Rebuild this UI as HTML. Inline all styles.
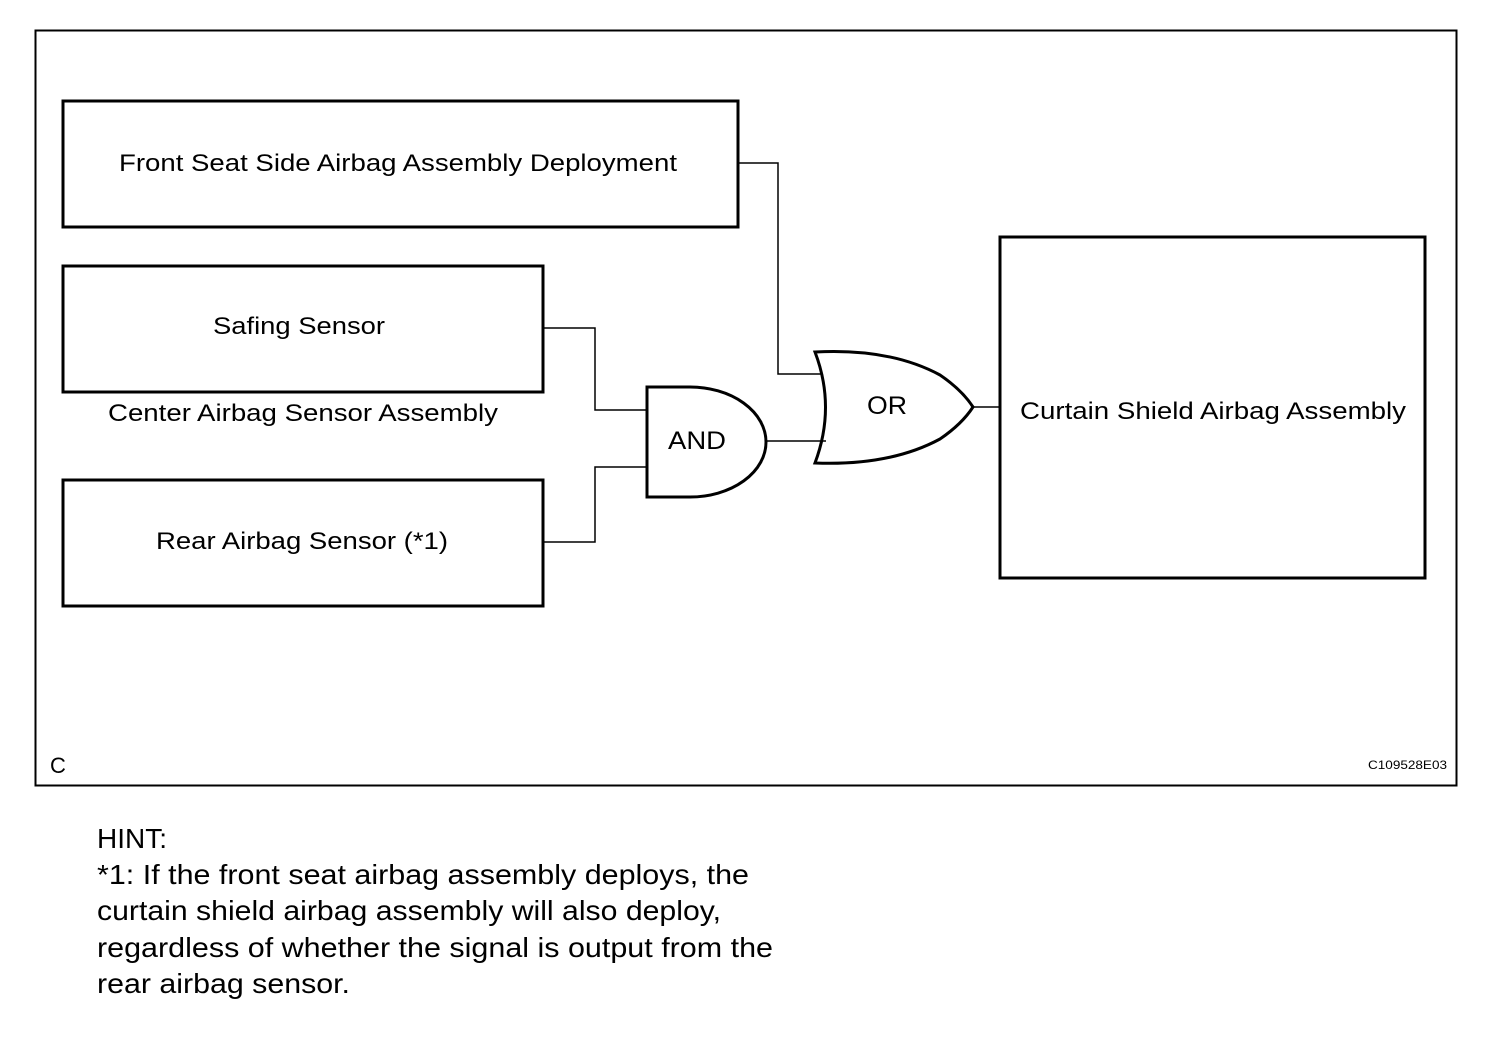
<!DOCTYPE html>
<html><head><meta charset="utf-8"><style>
html,body{margin:0;padding:0;background:#fff;}
svg{display:block;}
text{font-family:"Liberation Sans",Arial,sans-serif;fill:#000;}
</style></head><body>
<svg width="1504" height="1038" viewBox="0 0 1504 1038" xmlns="http://www.w3.org/2000/svg">
<rect x="35.5" y="30.5" width="1421" height="755" fill="none" stroke="#000" stroke-width="2"/>
<g fill="none" stroke="#000" stroke-width="3">
<rect x="63" y="101" width="675" height="126"/>
<rect x="63" y="266" width="480" height="126"/>
<rect x="63" y="480" width="480" height="126"/>
<rect x="1000" y="237" width="425" height="341"/>
<path d="M647,387 H690 A76,55 0 0 1 690,497 H647 Z"/>
<path d="M815,352 Q890,348 940,375 Q962,390 973,407 Q962,424 940,439 Q890,466 815,463 Q836,407 815,352 Z"/>
</g>
<g fill="none" stroke="#000" stroke-width="1.5">
<path d="M738,163 H778 V374 H822"/>
<path d="M543,328 H595 V410 H647"/>
<path d="M543,542 H595 V467 H647"/>
<path d="M766,441 H826"/>
<path d="M973,407 H1000"/>
</g>
<text x="398" y="171" font-size="24" text-anchor="middle" textLength="558" lengthAdjust="spacingAndGlyphs">Front Seat Side Airbag Assembly Deployment</text>
<text x="299" y="334" font-size="24" text-anchor="middle" textLength="172" lengthAdjust="spacingAndGlyphs">Safing Sensor</text>
<text x="303" y="421" font-size="24" text-anchor="middle" textLength="390" lengthAdjust="spacingAndGlyphs">Center Airbag Sensor Assembly</text>
<text x="302" y="549" font-size="24" text-anchor="middle" textLength="292" lengthAdjust="spacingAndGlyphs">Rear Airbag Sensor (*1)</text>
<text x="1213" y="419" font-size="24" text-anchor="middle" textLength="386" lengthAdjust="spacingAndGlyphs">Curtain Shield Airbag Assembly</text>
<text x="697" y="449" font-size="25" text-anchor="middle" textLength="58" lengthAdjust="spacingAndGlyphs">AND</text>
<text x="887" y="414" font-size="25" text-anchor="middle" textLength="40" lengthAdjust="spacingAndGlyphs">OR</text>
<text x="50" y="773" font-size="22">C</text>
<text x="1447" y="769" font-size="12" text-anchor="end" textLength="79" lengthAdjust="spacingAndGlyphs">C109528E03</text>
<g font-size="28">
<text x="97" y="848">HINT:</text>
<text x="97" y="884" textLength="652" lengthAdjust="spacingAndGlyphs">*1: If the front seat airbag assembly deploys, the</text>
<text x="97" y="920" textLength="624" lengthAdjust="spacingAndGlyphs">curtain shield airbag assembly will also deploy,</text>
<text x="97" y="957" textLength="676" lengthAdjust="spacingAndGlyphs">regardless of whether the signal is output from the</text>
<text x="97" y="993" textLength="253" lengthAdjust="spacingAndGlyphs">rear airbag sensor.</text>
</g>
</svg>
</body></html>
